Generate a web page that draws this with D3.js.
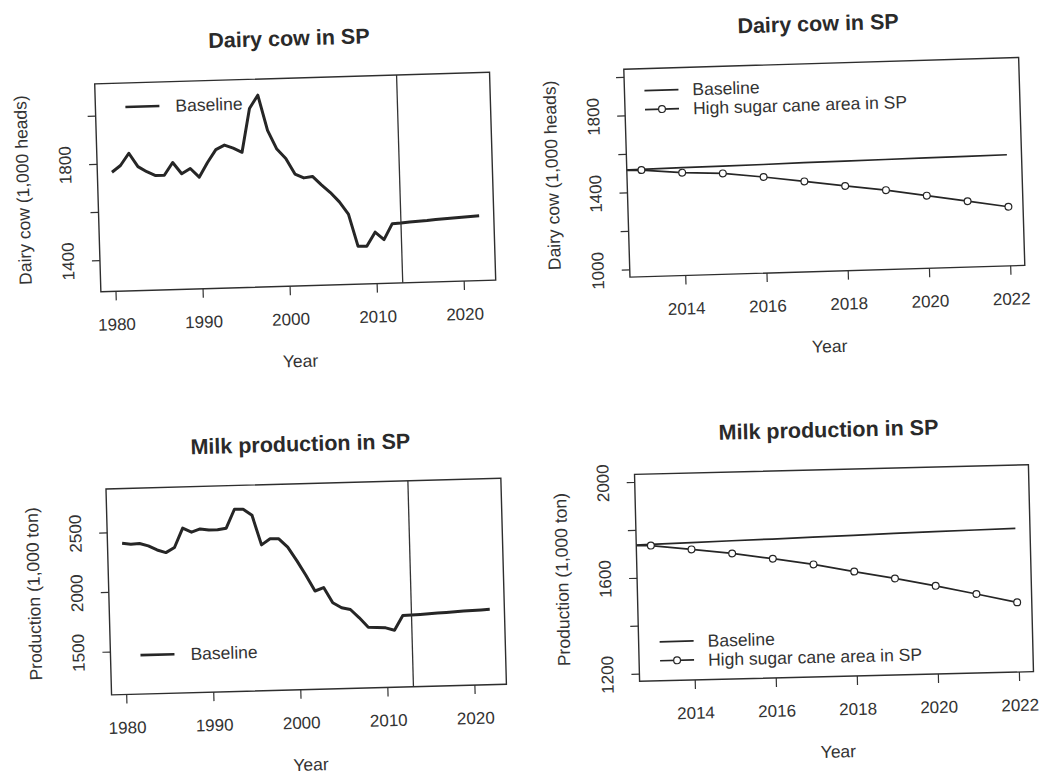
<!DOCTYPE html>
<html lang="en">
<head>
  <meta charset="utf-8">
  <title>Dairy cow and milk production in SP</title>
  <script src="https://cdnjs.cloudflare.com/ajax/libs/d3/7.8.5/d3.min.js"></script>
  <style>
    body { margin: 0; background: #fff; }
    svg { font-family: "Liberation Sans", Arial, Helvetica, sans-serif; }
    .tick line { stroke: #333; stroke-width: 1.2; }
    .tick text { fill: #333; font-size: 17px; }
  </style>
</head>
<body>
<script>
// historical + baseline projection (1980-2022)
const years = [1980, 1981, 1982, 1983, 1984, 1985, 1986, 1987, 1988, 1989,
  1990, 1991, 1992, 1993, 1994, 1995, 1996, 1997, 1998, 1999,
  2000, 2001, 2002, 2003, 2004, 2005, 2006, 2007, 2008, 2009,
  2010, 2011, 2012, 2013, 2014, 2015, 2016, 2017, 2018, 2019,
  2020, 2021, 2022];

const dairyBaseline = [1763, 1790, 1840, 1783, 1761, 1744, 1744, 1796, 1748, 1769,
  1732, 1792, 1844, 1862, 1848, 1830, 2011, 2065, 1918, 1839,
  1799, 1733, 1716, 1721, 1685, 1652, 1612, 1560, 1425, 1424,
  1482, 1450, 1515, 1517, 1520, 1522, 1524, 1527, 1529, 1531,
  1533, 1535, 1537];

const milkBaseline = [2405, 2395, 2399, 2377, 2341, 2317, 2358, 2518, 2482, 2508,
  2497, 2496, 2508, 2665, 2663, 2610, 2360, 2409, 2407, 2335,
  2220, 2095, 1961, 1988, 1859, 1815, 1798, 1726, 1645, 1640,
  1636, 1614, 1736, 1738, 1741, 1745, 1748, 1752, 1755, 1759,
  1762, 1765, 1768];

// high sugar cane area scenario
const scenYears = [2012, 2013, 2014, 2015, 2016, 2017, 2018, 2019, 2020, 2021, 2022];
const dairyHighCane = [1515, 1514, 1494, 1484, 1459, 1430, 1400, 1372, 1337, 1302, 1267];
const milkHighCane = [1736, 1733, 1713, 1692, 1666, 1638, 1604, 1571, 1536, 1498, 1459];

// axis ticks
const longYearTicks = [1980, 1990, 2000, 2010, 2020];
const shortYearTicks = [2014, 2016, 2018, 2020, 2022];
const cowTicksA = [1400, 1600, 1800, 2000];
const cowLabelsA = ["1400", "", "1800", ""];
const cowTicksB = [1000, 1200, 1400, 1600, 1800, 2000];
const cowLabelsB = ["1000", "", "1400", "", "1800", ""];
const milkTicksA = [1500, 2000, 2500];
const milkLabelsA = ["1500", "2000", "2500"];
const milkTicksB = [1200, 1400, 1600, 1800, 2000];
const milkLabelsB = ["1200", "", "1600", "", "2000"];

const baseLabel = "Baseline";
const scenLabel = "High sugar cane area in SP";

const svg = d3.select("body").append("svg")
  .attr("width", 1041)
  .attr("height", 776);

const ink = "#262626";

function drawPanel(c, idx) {
  const w = c.w, h = c.h;
  const g = svg.append("g")
    .attr("transform", `translate(${c.cx},${c.cy}) rotate(${c.angle}) translate(${-w / 2},${-h / 2})`);

  const x = d3.scaleLinear().domain(c.xDomain).range([0, w]);
  const y = d3.scaleLinear().domain(c.yDomain).range([h, 0]);

  g.append("clipPath").attr("id", "clip" + idx)
    .append("rect").attr("width", w).attr("height", h);

  // title
  g.append("text")
    .attr("x", w / 2 - 2).attr("y", -40).attr("dy", "0.35em")
    .attr("text-anchor", "middle")
    .attr("font-size", 21.5).attr("font-weight", "bold")
    .attr("fill", "#2a2a2a")
    .text(c.title);

  // axes
  const xAxis = g.append("g")
    .attr("transform", `translate(0,${h})`)
    .call(d3.axisBottom(x).tickValues(c.xTicks).tickSize(9).tickFormat(d3.format("d")));
  xAxis.select(".domain").remove();
  xAxis.selectAll("text").attr("y", 33).attr("dy", "0.35em");

  const yAxis = g.append("g")
    .call(d3.axisLeft(y).tickValues(c.yTicks).tickSize(8).tickFormat((d, i) => c.yLabels[i]));
  yAxis.select(".domain").remove();
  yAxis.selectAll("text")
    .attr("x", null).attr("dy", "0.35em")
    .attr("text-anchor", "middle")
    .attr("transform", "translate(-32,0) rotate(-90)");

  g.append("text")
    .attr("x", w / 2).attr("y", h + 75).attr("dy", "0.35em")
    .attr("text-anchor", "middle").attr("font-size", 17.5).attr("fill", "#333")
    .text("Year");

  g.append("text")
    .attr("transform", `translate(-75,${h / 2}) rotate(-90)`)
    .attr("dy", "0.35em")
    .attr("text-anchor", "middle").attr("font-size", 17.5).attr("fill", "#333")
    .text(c.yTitle);

  // series
  const plot = g.append("g").attr("clip-path", `url(#clip${idx})`);
  const line = d3.line().x(d => x(d[0])).y(d => y(d[1]));

  plot.append("path")
    .datum(years.map((yr, i) => [yr, c.base[i]]))
    .attr("d", line)
    .attr("fill", "none").attr("stroke", ink)
    .attr("stroke-width", c.scen ? 1.7 : 3)
    .attr("stroke-linejoin", "round");

  if (c.scen) {
    const pts = scenYears.map((yr, i) => [yr, c.scen[i]]);
    plot.append("path")
      .datum(pts)
      .attr("d", line)
      .attr("fill", "none").attr("stroke", ink).attr("stroke-width", 1.7);
    plot.selectAll("circle.pt")
      .data(pts)
      .enter().append("circle")
      .attr("class", "pt")
      .attr("cx", d => x(d[0])).attr("cy", d => y(d[1]))
      .attr("r", 3.4)
      .attr("fill", "#fff").attr("stroke", ink).attr("stroke-width", 1.2);
  }

  if (c.vline) {
    g.append("line")
      .attr("x1", x(c.vline)).attr("x2", x(c.vline))
      .attr("y1", 0).attr("y2", h)
      .attr("stroke", "#333").attr("stroke-width", 1.3);
  }

  // box
  g.append("rect")
    .attr("width", w).attr("height", h)
    .attr("fill", "none").attr("stroke", "#2e2e2e").attr("stroke-width", 1.4);

  // legend
  const lg = g.append("g").attr("transform", `translate(${c.legend[0]},${c.legend[1]})`);
  const entries = c.scen ? [baseLabel, scenLabel] : [baseLabel];
  entries.forEach((lab, i) => {
    const ly = i * 19;
    lg.append("line")
      .attr("x1", 0).attr("x2", 34).attr("y1", ly).attr("y2", ly)
      .attr("stroke", ink).attr("stroke-width", c.scen ? 1.7 : 2.6);
    if (i === 1) {
      lg.append("circle").attr("cx", 17).attr("cy", ly).attr("r", 3.4)
        .attr("fill", "#fff").attr("stroke", ink).attr("stroke-width", 1.2);
    }
    lg.append("text")
      .attr("x", c.legendText).attr("y", ly).attr("dy", "0.35em")
      .attr("font-size", 17.5).attr("fill", "#333")
      .text(lab);
  });
}

const panels = [
  { cx: 295.2, cy: 182, w: 395, h: 208, angle: -1.7,
    title: "Dairy cow in SP", yTitle: "Dairy cow (1,000 heads)",
    xDomain: [1978.32, 2023.68], yDomain: [1268, 2132],
    xTicks: longYearTicks, yTicks: cowTicksA, yLabels: cowLabelsA,
    base: dairyBaseline, vline: 2013, legend: [30, 24], legendText: 50 },
  { cx: 824.3, cy: 167.3, w: 395, h: 208, angle: -1.7,
    title: "Dairy cow in SP", yTitle: "Dairy cow (1,000 heads)",
    xDomain: [2012.64, 2022.36], yDomain: [960, 2040],
    xTicks: shortYearTicks, yTicks: cowTicksB, yLabels: cowLabelsB,
    base: dairyBaseline, scen: dairyHighCane, legend: [20, 22], legendText: 48 },
  { cx: 306.2, cy: 586.6, w: 395, h: 206, angle: -1.55,
    title: "Milk production in SP", yTitle: "Production (1,000 ton)",
    xDomain: [1978.32, 2023.68], yDomain: [1136, 2864],
    xTicks: longYearTicks, yTicks: milkTicksA, yLabels: milkLabelsA,
    base: milkBaseline, vline: 2013, legend: [30, 167], legendText: 50 },
  { cx: 834, cy: 573, w: 394, h: 207, angle: -1.4,
    title: "Milk production in SP", yTitle: "Production (1,000 ton)",
    xDomain: [2012.64, 2022.36], yDomain: [1168, 2032],
    xTicks: shortYearTicks, yTicks: milkTicksB, yLabels: milkLabelsB,
    base: milkBaseline, scen: milkHighCane, legend: [21, 168], legendText: 48 }
];

panels.forEach(drawPanel);
</script>
</body>
</html>
